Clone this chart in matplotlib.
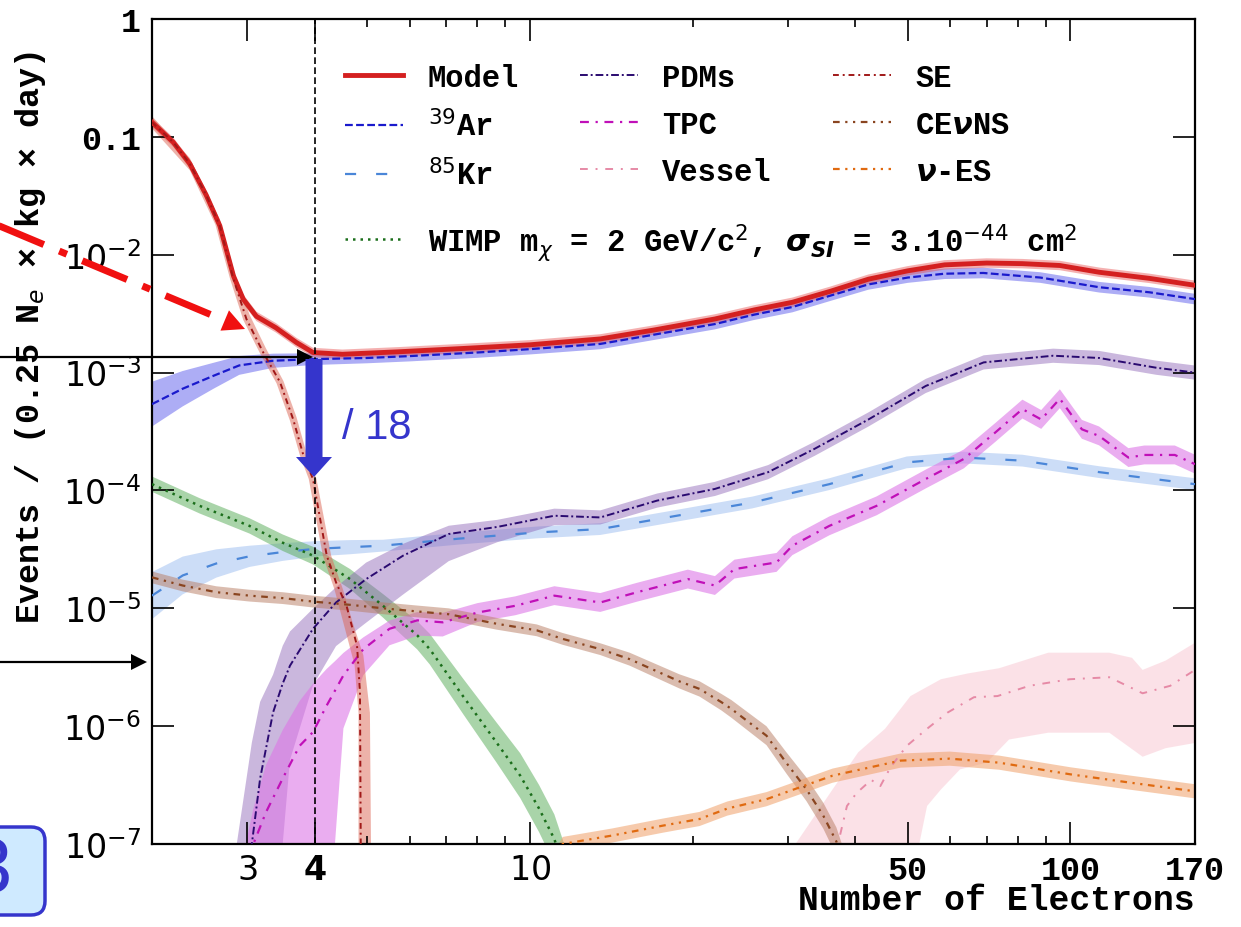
import numpy as np
import matplotlib
matplotlib.use('Agg')
import matplotlib.pyplot as plt
from matplotlib import transforms
from matplotlib.lines import Line2D
from matplotlib.patches import Polygon, FancyArrow, FancyBboxPatch
from matplotlib.ticker import FixedLocator, FixedFormatter, NullFormatter, NullLocator

plt.rcParams['font.family'] = ['Liberation Mono', 'DejaVu Sans']
plt.rcParams['mathtext.fontset'] = 'dejavusans'

# ---- data (x = number of electrons, y = events) ----
# band widths are given in decades (lo = below the line, hi = above the line)
model_x = [2.0, 2.19, 2.35, 2.52, 2.67, 2.83, 2.95, 3.12, 3.39, 3.7, 3.97, 4.5, 5.7, 7.5, 10,
           13.5, 17, 22, 26, 30.6, 36, 42.3, 50, 58.5, 70, 81.5, 95.6, 113, 140, 170]
model_y = [0.133, 0.090, 0.059, 0.032, 0.0176, 0.0066, 0.0042, 0.0030, 0.0024, 0.0018, 0.00148,
           0.00143, 0.0015, 0.0016, 0.00172, 0.00193, 0.0023, 0.00285, 0.0034, 0.00395, 0.0049,
           0.0062, 0.0073, 0.0082, 0.0085, 0.0084, 0.0081, 0.0071, 0.0063, 0.0055]
model_w = [0.04] * len(model_x)

ar_x = [2.0, 2.28, 2.6, 2.9, 3.35, 3.97, 5, 6, 8, 10, 13.5, 17, 22, 26, 30.6, 36, 42.3, 50,
        58.5, 69, 88, 113, 140, 170]
ar_y = [5.4e-4, 7.3e-4, 9.4e-4, 1.15e-3, 1.26e-3, 1.3e-3, 1.33e-3, 1.38e-3, 1.48e-3, 1.58e-3,
        1.75e-3, 2.1e-3, 2.58e-3, 3.1e-3, 3.6e-3, 4.5e-3, 5.6e-3, 6.4e-3, 6.9e-3, 7.0e-3, 6.4e-3,
        5.3e-3, 4.8e-3, 4.2e-3]
ar_w = [0.19, 0.15, 0.11, 0.08, 0.06, 0.05] + [0.045] * 18

kr_x = [2.0, 2.28, 2.63, 3.03, 3.49, 4.03, 4.65, 5.35, 7.4, 10.3, 13.5, 18.7, 25.8, 35.8, 49.8,
        63.5, 81.5, 113, 170]
kr_y = [1.28e-5, 1.9e-5, 2.4e-5, 2.76e-5, 3.0e-5, 3.2e-5, 3.3e-5, 3.4e-5, 3.9e-5, 4.4e-5, 4.7e-5,
        6.1e-5, 7.9e-5, 1.13e-4, 1.73e-4, 1.9e-4, 1.79e-4, 1.43e-4, 1.13e-4]
kr_w = [0.2, 0.16, 0.12, 0.09, 0.075, 0.065, 0.06] + [0.05] * 12

wimp_x = [2.0, 2.45, 3.03, 3.49, 3.97, 4.65, 5.35, 6.19, 6.53, 7.52, 8.67, 9.6, 10.4, 11.1, 11.6]
wimp_y = [1.13e-4, 7.4e-5, 5.0e-5, 3.6e-5, 2.8e-5, 1.77e-5, 1.05e-5, 5.9e-6, 4.5e-6, 1.8e-6,
          7.3e-7, 3.8e-7, 2.0e-7, 1.1e-7, 6e-8]
wimp_w = [0.065, 0.065, 0.065, 0.07, 0.075, 0.085, 0.1, 0.12, 0.13, 0.15, 0.17, 0.19, 0.2, 0.21, 0.21]

pdm_x = [2.87, 3.06, 3.17, 3.35, 3.49, 3.60, 3.97, 4.38, 4.98, 5.83, 7.08, 8.7, 11.1, 13.5, 17.2,
         22.0, 27.6, 33.6, 42.3, 54.0, 69.1, 92.9, 113, 144, 170]
pdm_y = [2e-8, 1e-7, 3.6e-7, 1.31e-6, 2.3e-6, 3.26e-6, 6.7e-6, 1.12e-5, 1.77e-5, 2.8e-5, 4.27e-5,
         4.9e-5, 6.1e-5, 5.9e-5, 8.2e-5, 1.03e-4, 1.43e-4, 2.25e-4, 4.0e-4, 7.7e-4, 1.22e-3,
         1.39e-3, 1.33e-3, 1.1e-3, 1.0e-3]
pdm_hi = [0.7, 0.86, 0.65, 0.32, 0.32, 0.29, 0.17, 0.13, 0.14, 0.1, 0.07] + [0.06] * 14
pdm_lo = [2, 2, 2, 2, 1.36, 0.8, 0.48, 0.37, 0.37, 0.33, 0.23, 0.13, 0.08] + [0.06] * 12

tpc_x = [2.98, 3.08, 3.25, 3.49, 3.75, 3.97, 4.21, 4.36, 4.52, 4.92, 5.5, 6.19, 6.9, 8.0, 9.4,
         11.1, 13.5, 15.8, 19.6, 22.0, 23.9, 28.6, 30.6, 35.8, 43.8, 54.0, 63.5, 72.6, 81.5, 88.3,
         95.6, 105, 113, 128, 137, 156, 170]
tpc_y = [3e-8, 1e-7, 1.86e-7, 3.6e-7, 6.8e-7, 8.9e-7, 1.5e-6, 2.0e-6, 2.7e-6, 4.5e-6, 6.7e-6,
         7.9e-6, 7.6e-6, 9.2e-6, 1.05e-5, 1.28e-5, 1.12e-5, 1.37e-5, 1.77e-5, 1.56e-5, 2.15e-5,
         2.45e-5, 3.4e-5, 5.0e-5, 7.4e-5, 1.25e-4, 1.85e-4, 3.1e-4, 4.9e-4, 4.0e-4, 6.0e-4, 3.3e-4,
         2.9e-4, 1.9e-4, 2.0e-4, 2.0e-4, 1.67e-4]
tpc_hi = [0.52, 0.3, 0.4, 0.41, 0.38, 0.41, 0.31, 0.25, 0.19, 0.1, 0.07, 0.07, 0.08] + [0.08] * 24
tpc_lo = [2, 2, 2, 2, 2, 2, 2, 1.3, 0.45, 0.22, 0.14, 0.13, 0.12] + [0.08] * 24

se_x = [2.0, 2.19, 2.35, 2.52, 2.67, 2.83, 2.99, 3.21, 3.45, 3.65, 3.81, 3.97, 4.21, 4.38, 4.58,
        4.79, 4.85, 4.87]
se_y = [0.133, 0.090, 0.059, 0.032, 0.0176, 0.0062, 2.85e-3, 1.49e-3, 8.3e-4, 4.0e-4, 2.0e-4,
        1.25e-4, 2.8e-5, 1.66e-5, 1.05e-5, 4.8e-6, 1.95e-6, 5e-8]
# SE band edges (right/upper edge and left/lower edge)
se_up_x = [2.0, 2.35, 2.67, 2.85, 3.03, 3.25, 3.5, 3.7, 3.86, 4.03, 4.29, 4.51, 4.70, 4.92, 5.06, 5.09]
se_up_y = [0.15, 0.066, 0.020, 0.0068, 0.0031, 1.6e-3, 8.5e-4, 4.2e-4, 2.1e-4, 1.25e-4, 2.8e-5,
           1.45e-5, 7.6e-6, 4e-6, 1.3e-6, 5e-8]
se_dn_x = [2.0, 2.35, 2.62, 2.79, 2.95, 3.17, 3.40, 3.6, 3.76, 3.90, 4.14, 4.35, 4.55, 4.74, 4.82, 4.82]
se_dn_y = [0.118, 0.052, 0.018, 0.0062, 0.0028, 1.45e-3, 8.1e-4, 3.9e-4, 1.95e-4, 1.25e-4, 2.8e-5,
           1.45e-5, 6.7e-6, 3.3e-6, 1.3e-6, 5e-8]

ce_x = [2.0, 2.28, 2.63, 3.03, 3.49, 3.97, 4.65, 5.35, 6.19, 7.08, 8.67, 10.3, 11.5, 13.5, 15.3,
        18.9, 20.6, 22.6, 23.6, 27.4, 29.8, 32.5, 34.9, 36.9, 38]
ce_y = [1.83e-5, 1.56e-5, 1.37e-5, 1.28e-5, 1.22e-5, 1.14e-5, 1.07e-5, 1.0e-5, 9.4e-6, 8.9e-6,
        7.4e-6, 6.5e-6, 5.5e-6, 4.5e-6, 3.7e-6, 2.4e-6, 2.07e-6, 1.6e-6, 1.4e-6, 8.3e-7, 4.9e-7,
        2.9e-7, 1.74e-7, 1.05e-7, 7e-8]
ce_w = [0.05] * 14 + [0.055, 0.06, 0.065, 0.07, 0.075, 0.08, 0.09, 0.1, 0.11, 0.12, 0.12]

nes_x = [11.2, 11.5, 14.2, 17.6, 20.6, 23.2, 27.4, 36.3, 48.5, 59.8, 73.8, 100, 130, 170]
nes_y = [8e-8, 1.0e-7, 1.18e-7, 1.43e-7, 1.63e-7, 2.0e-7, 2.4e-7, 3.8e-7, 5.1e-7, 5.3e-7, 4.9e-7,
         3.9e-7, 3.3e-7, 2.8e-7]
nes_w = [0.06] * len(nes_x)

ves_x = [37.5, 38.6, 40.2, 42.8, 44.5, 46.5, 49.8, 54.3, 59.2, 66.3, 73.3, 84.0, 99.7, 118, 136, 153, 170]
ves_y = [1.2e-7, 2.1e-7, 2.7e-7, 3.5e-7, 3.1e-7, 4.5e-7, 6.8e-7, 9.5e-7, 1.3e-6, 1.76e-6, 1.8e-6,
         2.2e-6, 2.5e-6, 2.6e-6, 1.9e-6, 2.2e-6, 3.0e-6]
ves_up_x = [30.0, 36.3, 40.5, 45.4, 50.6, 57.6, 64.6, 73.8, 91, 118, 130, 136, 150, 170]
ves_up_y = [8e-8, 2.9e-7, 6.0e-7, 9.5e-7, 1.8e-6, 2.5e-6, 2.8e-6, 3.1e-6, 4.2e-6, 4.2e-6, 3.8e-6,
            3.0e-6, 3.6e-6, 5.1e-6]
ves_dn_x = [52, 54.3, 57.6, 62.5, 70, 77, 91, 118, 136, 150, 170]
ves_dn_y = [8e-8, 2.1e-7, 2.9e-7, 4.3e-7, 4.9e-7, 7.7e-7, 8.8e-7, 8.8e-7, 5.5e-7, 6.5e-7, 7.2e-7]

xtick_vals = [3, 4, 10, 50, 100, 170]
xtick_labels = ['$3$', r'$\mathbf{4}$', '$10$', '50', '100', '170']
xminor_vals = [5, 6, 7, 8, 9, 20, 30, 40, 60, 70, 80, 90]
ytick_vals = [1e-7, 1e-6, 1e-5, 1e-4, 1e-3, 1e-2, 0.1, 1]
ytick_labels = ['$10^{-7}$', '$10^{-6}$', '$10^{-5}$', '$10^{-4}$', '$10^{-3}$', '$10^{-2}$', '0.1', '1']

W, H = 1241, 928
fig = plt.figure(figsize=(W / 100, H / 100), dpi=100)
ax = fig.add_axes([152 / W, (H - 845) / H, (1195 - 152) / W, (845 - 20) / H])
pix = transforms.Affine2D().scale(1, -1).translate(0, H)  # top-left pixel coords


def band_poly(x, y, lo, hi):
    x = np.asarray(x)
    y = np.asarray(y)
    up = y * 10 ** np.asarray(hi)
    dn = y / 10 ** np.asarray(lo)
    return np.r_[x, x[::-1]], np.r_[up, dn[::-1]]


def curve(x, y, lo, hi, color, band, alpha, ls, lw, label):
    bx, by = band_poly(x, y, lo, hi)
    ax.fill(bx, by, color=band, alpha=alpha, lw=0, zorder=1)
    line, = ax.plot(x, y, color=color, ls=ls, lw=lw, label=label, zorder=3)
    return line


h_ves, = ax.plot(ves_x, ves_y, color='#e68aa6', ls=(0, (4, 4, 1, 4)), lw=1.4, label='Vessel', zorder=3)
ax.fill(ves_up_x + ves_dn_x[::-1], ves_up_y + ves_dn_y[::-1], color='#f7b6c4', alpha=0.4, lw=0, zorder=1)

h_ar = curve(ar_x, ar_y, ar_w, ar_w, '#1a1acc', '#6a6aee', 0.55, (0, (3.5, 1.5)), 1.6, '$^{39}$Ar')
h_model = curve(model_x, model_y, model_w, model_w, '#d42020', '#e85050', 0.45, '-', 3.5, 'Model')
h_kr = curve(kr_x, kr_y, kr_w, kr_w, '#4a86d8', '#8fb4ee', 0.45, (0, (5, 9)), 1.6, '$^{85}$Kr')
h_wimp = curve(wimp_x, wimp_y, wimp_w, wimp_w, '#1b6e1b', '#55aa55', 0.5, (0, (1, 2)), 1.8,
               r'WIMP m$_\chi$ = 2 GeV/c$^2$, $\mathbfit{\sigma}_{\mathbfit{SI}}$ = 3.10$^{-44}$ cm$^2$')
h_pdm = curve(pdm_x, pdm_y, pdm_lo, pdm_hi, '#2a0a70', '#8a60b5', 0.45, (0, (4, 1.5, 1, 1.5)), 1.4, 'PDMs')
h_tpc = curve(tpc_x, tpc_y, tpc_lo, tpc_hi, '#c010b8', '#dd77e6', 0.6, (0, (4, 3, 1, 3)), 1.6, 'TPC')
h_se, = ax.plot(se_x, se_y, color='#a01818', ls=(0, (3, 2, 1, 2)), lw=1.4, label='SE', zorder=3)
ax.fill(se_up_x + se_dn_x[::-1], se_up_y + se_dn_y[::-1], color='#dd6655', alpha=0.5, lw=0, zorder=1)
h_ce = curve(ce_x, ce_y, ce_w, ce_w, '#8a4520', '#b77a60', 0.5, (0, (3, 2.5, 1, 2.5, 1, 2.5)), 1.6,
             r'CE$\mathbfit{\nu}$NS')
h_nes = curve(nes_x, nes_y, nes_w, nes_w, '#e06a10', '#f0a068', 0.55, (0, (3, 2.5, 1, 2.5, 1, 2.5)), 1.6,
              r'$\mathbfit{\nu}$-ES')

ax.axvline(4, color='k', ls=(0, (4, 2)), lw=1.2, zorder=4)

# axes, ticks
ax.set_xscale('log')
ax.set_yscale('log')
ax.set_xlim(2, 170)
ax.set_ylim(1e-7, 1)
ax.xaxis.set_major_locator(FixedLocator(xtick_vals))
ax.xaxis.set_major_formatter(FixedFormatter(xtick_labels))
ax.xaxis.set_minor_locator(FixedLocator(xminor_vals))
ax.xaxis.set_minor_formatter(NullFormatter())
ax.yaxis.set_major_locator(FixedLocator(ytick_vals))
ax.yaxis.set_major_formatter(FixedFormatter(ytick_labels))
ax.yaxis.set_minor_locator(NullLocator())
ax.tick_params(which='both', direction='in', top=True, right=True, width=1.2, colors='k')
ax.tick_params(which='major', length=16, labelsize=24, pad=8)
ax.tick_params(which='minor', length=6)
for s in ax.spines.values():
    s.set_linewidth(1.6)
# plain (non-math) tick labels are bold mono, the math ones stay regular
for lab in ax.get_xticklabels() + ax.get_yticklabels():
    if not lab.get_text().startswith('$'):
        lab.set_fontweight('bold')

ax.set_xlabel('Number of Electrons', fontsize=25, fontweight='bold', loc='right', labelpad=-2)
ax.set_ylabel('Events / (0.25 N$_e$ × kg × day)', fontsize=24, fontweight='bold')
ax.yaxis.set_label_coords(-0.1, 0.615)


def fx(px):
    return (px - 152) / 1043


def fy(py):
    return 1 - (py - 20) / 825


leg_kw = dict(loc='upper left', frameon=False, borderpad=0, borderaxespad=0, handlelength=1.9,
              handletextpad=0.8, columnspacing=2.0, labelspacing=0.55,
              prop={'size': 22, 'weight': 'bold'})
hs = [h_model, h_ar, h_kr, h_pdm, h_tpc, h_ves, h_se, h_ce, h_nes]
leg1 = ax.legend(hs, [h.get_label() for h in hs], ncol=3, bbox_to_anchor=(fx(345), fy(64)), **leg_kw)
ax.add_artist(leg1)
ax.legend([h_wimp], [h_wimp.get_label()], bbox_to_anchor=(fx(345), fy(222)), **leg_kw)

# ---- slide annotations around the plot ----
blue = '#3535cc'
# red dash-dot arrow from the left
start = np.array([-10.0, 223.0])
tip = np.array([245.0, 330.0])
u = (tip - start) / np.hypot(*(tip - start))
nrm = np.array([-u[1], u[0]])
base = tip - 22 * u
fig.add_artist(Line2D([start[0], base[0]], [start[1], base[1]], transform=pix, color='#f01010',
                      lw=5, ls=(0, (7, 2.4, 1.2, 2.4))))
fig.add_artist(Polygon([tip, base + 11 * nrm, base - 11 * nrm], closed=True, transform=pix,
                       color='#f01010', lw=0))

# black horizontal arrows
for (x0, x1, yy) in [(0, 313, 358), (0, 147, 663)]:
    fig.add_artist(Line2D([x0, x1 - 14], [yy, yy], transform=pix, color='k', lw=1.6))
    fig.add_artist(Polygon([(x1, yy), (x1 - 16, yy - 8), (x1 - 16, yy + 8)], closed=True,
                           transform=pix, color='k', lw=0))

# blue down arrow "/ 18"
fig.add_artist(FancyArrow(314, 360, 0, 118, width=17, head_width=36, head_length=20,
                          length_includes_head=True, transform=pix, color=blue, lw=0))
fig.text(342 / W, 1 - 428 / H, '/ 18', color=blue, fontsize=30, family='Liberation Sans',
         ha='left', va='center')

# rounded box at bottom-left (cut by the left edge like in the slide)
fig.add_artist(FancyBboxPatch((-40, 828), 85, 88, boxstyle='round,pad=0,rounding_size=14',
                              transform=pix, facecolor='#cfeaff', edgecolor=blue, lw=2.5))
fig.text(-10 / W, 1 - 872 / H, '3', color=blue, fontsize=56, family='Liberation Sans',
         ha='center', va='center')

fig.savefig('out.png', dpi=100)
